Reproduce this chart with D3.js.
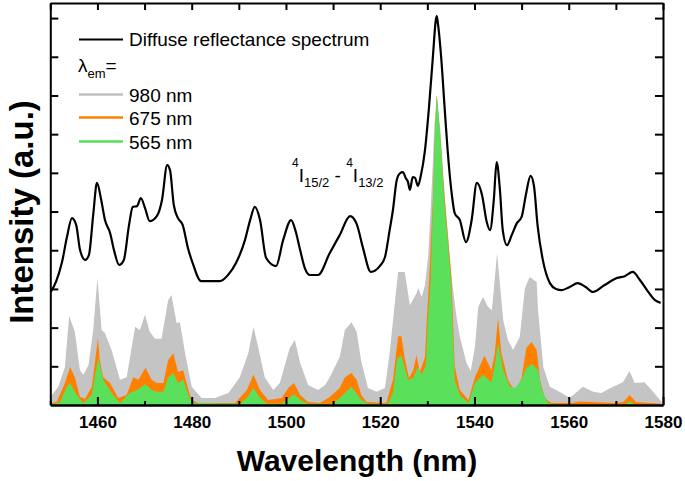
<!DOCTYPE html>
<html><head><meta charset="utf-8">
<script src="https://cdn.jsdelivr.net/npm/d3@7"></script>
<style>body{margin:0;background:#fff}svg{display:block}text{font-family:"Liberation Sans",Arial,sans-serif}</style>
</head><body>
<svg id="c" width="685" height="481"></svg>
<script>
// Diffuse reflectance spectrum
const reflWl = [1450.1,1451.2,1452.5,1453.5,1454.6,1455.5,1456.3,1457.4,1458.2,1459.1,
1459.9,1460.8,1461.6,1462.7,1463.5,1464.6,1465.6,1466.7,1467.5,1468.4,
1469.2,1470.1,1471.1,1472.6,1473.7,1474.8,1475.4,1476.2,1477.1,1478.1,
1479.2,1480.2,1482.0,1486.0,1487.7,1489.4,1491.3,1492.4,1493.4,1494.5,
1495.8,1497.9,1499.4,1501.1,1502.1,1503.0,1504.0,1505.1,1506.8,1509.3,
1511.4,1513.6,1515.0,1516.3,1518.0,1519.9,1521.0,1522.0,1522.7,1523.5,
1524.2,1524.8,1525.4,1525.9,1526.3,1526.9,1527.4,1528.0,1528.6,1529.5,
1530.3,1531.2,1531.8,1532.0,1532.2,1532.9,1533.7,1534.3,1535.2,1535.8,
1536.9,1538.2,1539.4,1540.5,1541.6,1542.6,1543.3,1544.1,1544.7,1545.4,
1546.0,1546.9,1547.9,1549.0,1550.0,1550.9,1551.9,1552.6,1553.4,1554.5,
1556.0,1557.3,1558.5,1560.2,1561.9,1563.6,1565.1,1567.6,1570.2,1571.9,
1573.6,1575.1,1576.6,1578.3,1579.5];
const reflVal = [2.92,3.18,3.70,4.32,4.83,4.65,4.01,3.75,3.88,4.91,
5.74,5.30,4.78,4.44,4.01,3.62,3.75,4.65,5.12,5.14,
5.35,5.09,4.75,4.88,5.30,6.20,6.07,5.17,4.83,4.65,
4.06,3.67,3.20,3.20,3.36,3.67,4.26,4.78,5.12,4.78,
3.80,3.59,4.26,4.78,4.47,4.01,3.54,3.36,3.36,3.93,
4.39,4.88,4.68,4.08,3.44,3.59,3.82,4.52,5.04,5.81,
5.99,6.02,5.87,5.76,5.56,5.89,5.87,5.66,5.92,6.59,
7.62,9.04,9.95,10.05,9.90,9.04,7.62,6.59,5.43,4.96,
4.78,4.21,4.78,5.74,5.43,4.73,4.52,5.30,6.28,5.56,
4.52,4.13,4.39,4.70,4.86,5.43,5.92,5.68,4.63,3.75,
3.15,3.00,2.97,3.05,3.15,3.05,2.92,3.10,3.28,3.33,
3.44,3.23,2.97,2.71,2.64];

// Emission-monitored excitation, lambda_em = 980 nm
const em980Wl = [1450.0,1451.7,1453.1,1454.0,1455.2,1456.3,1457.0,1458.1,1459.1,1460.0,
1460.9,1461.6,1463.0,1464.8,1466.2,1468.0,1469.0,1470.1,1471.1,1472.2,
1473.6,1475.0,1475.7,1476.8,1477.5,1478.6,1480.0,1482.1,1484.9,1487.8,
1490.2,1492.0,1493.1,1494.1,1495.5,1497.3,1498.7,1500.8,1501.9,1503.0,
1504.7,1506.8,1508.3,1509.3,1511.4,1512.5,1513.9,1515.0,1516.0,1517.4,
1519.2,1521.0,1522.0,1523.1,1523.8,1525.2,1526.3,1527.7,1528.1,1528.8,
1529.5,1530.2,1531.0,1531.5,1532.0,1532.8,1533.7,1535.2,1536.2,1536.9,
1538.3,1539.2,1540.1,1540.8,1541.8,1542.9,1543.7,1544.8,1546.1,1547.1,
1548.2,1549.6,1550.7,1551.7,1553.2,1553.5,1554.6,1556.0,1558.5,1560.2,
1563.0,1565.2,1566.9,1569.4,1571.5,1572.9,1574.0,1576.1,1577.9,1579.7];
const em980Val = [0.21,0.47,0.98,2.30,1.89,0.90,0.78,1.03,1.94,3.28,
1.94,1.86,1.42,0.65,0.72,2.02,1.94,2.33,1.89,1.71,
1.71,2.71,2.84,2.12,2.14,1.34,0.47,0.18,0.18,0.31,
0.72,1.34,2.02,1.50,0.72,0.39,0.57,1.47,1.68,1.09,
0.52,0.39,0.52,0.72,1.24,1.94,2.14,1.89,1.11,0.44,
0.34,0.44,1.34,2.64,3.44,3.44,2.58,2.89,3.02,2.79,
3.10,3.88,5.81,7.24,8.01,7.05,5.43,3.23,2.27,1.76,
1.09,0.88,1.50,2.53,2.79,2.53,2.45,3.93,2.20,1.68,
1.42,1.76,3.02,3.31,3.18,2.45,0.98,0.47,0.31,0.18,
0.47,0.34,0.31,0.47,0.59,0.88,0.57,0.59,0.34,0.08];

// lambda_em = 675 nm
const em675Wl = [1450.0,1451.4,1453.1,1454.2,1455.2,1456.3,1457.4,1458.8,1459.4,1460.1,
1460.5,1461.2,1462.7,1464.4,1466.2,1467.6,1468.7,1470.2,1471.5,1472.6,
1474.0,1475.0,1476.1,1477.1,1478.2,1479.3,1480.0,1481.4,1489.2,1491.7,
1493.1,1494.5,1496.2,1499.1,1500.5,1501.7,1503.0,1504.7,1507.2,1509.3,
1511.4,1512.5,1513.9,1515.0,1516.0,1517.1,1521.3,1522.7,1523.8,1524.5,
1525.2,1526.1,1527.0,1527.7,1528.4,1529.5,1529.9,1530.4,1531.2,1531.6,
1532.0,1532.7,1533.7,1535.1,1535.8,1536.9,1538.7,1540.1,1542.1,1543.6,
1544.3,1545.0,1545.7,1547.1,1548.6,1550.0,1551.0,1552.1,1553.2,1553.9,
1554.9,1556.3,1560.6,1562.3,1569.7,1571.6,1572.9,1574.3,1577.2,1579.7];
const em675Val = [0.03,0.09,0.57,0.98,0.72,0.21,0.16,0.47,1.03,1.73,
1.16,0.72,0.57,0.18,0.26,0.72,0.65,0.96,0.65,0.57,
0.57,1.16,1.34,0.85,0.90,0.39,0.13,0.05,0.05,0.39,
0.78,0.39,0.13,0.18,0.44,0.57,0.26,0.08,0.05,0.21,
0.44,0.72,0.83,0.65,0.26,0.08,0.05,0.65,1.78,1.78,
1.21,0.70,0.90,1.29,0.85,1.24,2.25,3.28,5.43,7.03,
8.01,7.00,5.30,3.30,1.01,0.39,0.13,0.72,1.27,0.90,
1.34,2.25,1.34,0.65,0.34,0.70,1.47,1.63,1.42,0.65,
0.18,0.05,0.05,0.09,0.05,0.08,0.26,0.08,0.05,0.03];

// lambda_em = 565 nm
const em565Wl = [1450.0,1452.1,1453.5,1454.2,1455.6,1457.0,1458.8,1459.5,1460.2,1461.2,
1463.0,1464.8,1466.9,1468.7,1470.1,1471.5,1472.6,1474.0,1475.0,1476.1,
1477.1,1478.2,1479.3,1480.1,1490.2,1491.7,1493.1,1494.5,1496.0,1499.1,
1500.1,1501.7,1503.3,1504.7,1510.0,1511.4,1513.9,1516.0,1517.4,1521.6,
1522.7,1523.6,1524.5,1525.9,1527.0,1528.0,1528.8,1529.7,1530.1,1530.7,
1531.2,1531.6,1532.0,1532.7,1533.6,1535.0,1535.8,1536.9,1538.7,1540.1,
1541.8,1543.6,1544.3,1545.0,1546.1,1547.5,1548.6,1550.0,1551.0,1552.2,
1553.5,1554.3,1555.6,1557.0,1571.9,1572.9,1574.0,1579.8];
const em565Val = [0,0.08,0.47,0.57,0.26,0.05,0.26,0.78,1.21,0.65,
0.31,0.05,0.31,0.41,0.54,0.39,0.34,0.34,0.72,0.83,
0.57,0.65,0.26,0.05,0.03,0.18,0.44,0.18,0.03,0.03,
0.13,0.28,0.11,0.03,0.03,0.18,0.47,0.13,0.03,0.03,
0.31,1.21,1.27,0.65,0.70,0.98,0.78,1.03,2.20,3.23,
5.30,7.03,8.01,7.03,5.30,3.23,0.65,0.26,0.05,0.57,
0.78,0.59,1.03,1.60,0.90,0.47,0.44,0.65,0.96,1.06,
0.90,0.39,0.05,0,0,0.10,0,0];

const xMajorTicks = [1460,1480,1500,1520,1540,1560,1580];
const xMinorTicks = [1450,1470,1490,1510,1530,1550,1570];
const yTicks = [1,2,3,4,5,6,7,8,9,10];
const legendLabels = ["Diffuse reflectance spectrum","980 nm","675 nm","565 nm"];
const fillColors = ["#c4c4c4","#ff8000","#5be05b"];

const svg = d3.select("#c");
const L = 50.3, R = 663, T = 3, B = 405;
const x = d3.scaleLinear().domain([1450,1580]).range([L,R]);
const y = d3.scaleLinear().domain([0,10.39]).range([B,T]);

svg.append("defs").append("clipPath").attr("id","clip")
  .append("rect").attr("x",L).attr("y",T).attr("width",R-L).attr("height",B-T);

const zip = (w,v)=>w.map((d,i)=>({wl:d,v:v[i]}));
const area = d3.area().x(d=>x(d.wl)).y0(y(0)).y1(d=>y(d.v));
const line = d3.line().x(d=>x(d.wl)).y(d=>y(d.v)).curve(d3.curveMonotoneX);

const g = svg.append("g").attr("clip-path","url(#clip)");
[[em980Wl,em980Val],[em675Wl,em675Val],[em565Wl,em565Val]].forEach((s,i)=>{
  g.append("path").datum(zip(s[0],s[1])).attr("d",area).attr("fill",fillColors[i]);
});
g.append("path").datum(zip(reflWl,reflVal)).attr("d",line)
  .attr("fill","none").attr("stroke","#000").attr("stroke-width",2.2).attr("stroke-linejoin","round");

// axes
function styleAxis(sel){
  sel.selectAll(".domain").attr("stroke","#000").attr("stroke-width",2);
  sel.selectAll(".tick line").attr("stroke","#000").attr("stroke-width",2);
}
const xb = svg.append("g").attr("transform",`translate(0,${B})`)
  .call(d3.axisBottom(x).tickValues(xMajorTicks).tickSize(-8).tickSizeOuter(0).tickPadding(11).tickFormat(d3.format("d")));
styleAxis(xb);
xb.selectAll("text").attr("font-size",17).attr("font-weight","bold").attr("fill","#000")
  .style("font-family","'Liberation Sans',Arial,sans-serif");
const xbm = svg.append("g").attr("transform",`translate(0,${B})`)
  .call(d3.axisBottom(x).tickValues(xMinorTicks).tickSize(-4).tickSizeOuter(0).tickFormat(""));
styleAxis(xbm);
const xt = svg.append("g").attr("transform",`translate(0,${T})`)
  .call(d3.axisTop(x).tickValues(xMajorTicks.concat(xMinorTicks)).tickSize(-7).tickSizeOuter(0).tickFormat(""));
styleAxis(xt);
const yl = svg.append("g").attr("transform",`translate(${L},0)`)
  .call(d3.axisLeft(y).tickValues(yTicks).tickSize(-8).tickSizeOuter(0).tickFormat(""));
styleAxis(yl);
const yr = svg.append("g").attr("transform",`translate(${R},0)`)
  .call(d3.axisRight(y).tickValues(yTicks).tickSize(-8).tickSizeOuter(0).tickFormat(""));
styleAxis(yr);

// axis titles
svg.append("text").attr("x",357).attr("y",471).attr("text-anchor","middle")
  .attr("font-size",30).attr("font-weight","bold").text("Wavelength (nm)");
svg.append("text").attr("transform","translate(33,212) rotate(-90)").attr("text-anchor","middle")
  .attr("font-size",33).attr("font-weight","bold").text("Intensity (a.u.)");

// legend
const lg = svg.append("g");
lg.append("line").attr("x1",79).attr("x2",123).attr("y1",39.5).attr("y2",39.5).attr("stroke","#000").attr("stroke-width",2.2);
lg.append("text").attr("x",129).attr("y",46).attr("font-size",19).text(legendLabels[0]);
const lam = lg.append("text").attr("x",78).attr("y",72).attr("font-size",19);
lam.append("tspan").text("λ");
lam.append("tspan").attr("font-size",13).attr("dy",6).text("em");
lam.append("tspan").attr("dy",-6).text("=");
const legY = [94.5,117.5,141.5];
legY.forEach((ly,i)=>{
  lg.append("line").attr("x1",79).attr("x2",123).attr("y1",ly).attr("y2",ly)
    .attr("stroke",["#c0c0c0","#ff8000","#55e055"][i]).attr("stroke-width",2.5);
  lg.append("text").attr("x",129).attr("y",ly+7).attr("font-size",19).text(legendLabels[i+1]);
});

// transition annotation
const ann = svg.append("text").attr("x",292).attr("y",182).attr("font-size",19);
ann.append("tspan").attr("font-size",12).attr("dy",-15).text("4");
ann.append("tspan").attr("dy",15).text("I");
ann.append("tspan").attr("font-size",13).attr("dy",5).text("15/2");
ann.append("tspan").attr("dy",-5).text(" - ");
ann.append("tspan").attr("font-size",12).attr("dy",-15).text("4");
ann.append("tspan").attr("dy",15).text("I");
ann.append("tspan").attr("font-size",13).attr("dy",5).text("13/2");
</script>
</body></html>
